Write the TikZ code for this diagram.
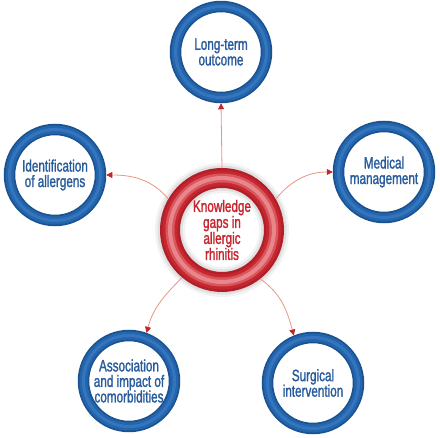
\documentclass[tikz,border=0pt]{standalone}
\usepackage{fontspec}
\setmainfont[FakeStretch=0.71,FakeBold=1.5]{Liberation Sans}
\usetikzlibrary{arrows.meta}

\definecolor{ringdark}{HTML}{1B528F}
\definecolor{ringblue}{HTML}{2366AE}
\definecolor{ringlight}{HTML}{3575BD}
\definecolor{textblue}{HTML}{2A5C9C}
\definecolor{hubdark}{HTML}{B0202A}
\definecolor{hubred}{HTML}{C8262F}
\definecolor{hublight}{HTML}{E8868C}
\definecolor{linkred}{HTML}{E99583}
\definecolor{tipred}{HTML}{C0262C}

\tikzset{
  topic/.style={circle, inner sep=0pt, minimum size=91pt,
    draw=ringdark, line width=11.5pt,
    postaction={draw=ringblue, line width=8pt},
    postaction={draw=ringlight, line width=3pt},
    text=textblue, align=center,
    font=\fontsize{16.5}{15.5}\selectfont},
  hub/.style={circle, inner sep=0pt, minimum size=104pt,
    preaction={draw=black!5, line width=30pt},
    preaction={draw=black!12, line width=25pt},
    draw=hubdark, line width=20pt,
    postaction={draw=hubred, line width=15pt},
    postaction={draw=hubred!50!hublight, line width=9pt},
    postaction={draw=hublight, line width=4pt},
    text=hubred, align=center,
    font=\fontsize{16.5}{16}\selectfont},
  link/.style={draw=linkred, line width=0.8pt,
    -{Triangle[length=6pt,width=6pt,color=tipred]}}
}

\begin{document}
\begin{tikzpicture}[x=1pt,y=-1pt]
  \useasboundingbox (0,0) rectangle (440,438);

  \node[hub] (gaps) at (222,230) {Knowledge\\gaps in\\allergic\\rhinitis};

  \node[topic] (outcome) at (221,52) {Long-term\\outcome};
  \node[topic] (allergens) at (55,175) {Identification\\of allergens};
  \node[topic] (medical) at (384,172) {Medical\\management};
  \node[topic] (comorb) at (129,381) {Association\\and impact of\\comorbidities};
  \node[topic] (surgery) at (313,383) {Surgical\\intervention};

  \draw[link] (gaps.north) -- (outcome.south);
  \draw[link] (gaps.150) to[out=130,in=0] (allergens.east);
  \draw[link] (gaps.30) to[out=50,in=180] (medical.west);
  \draw[link] (gaps.230) to[out=225,in=75] (comorb.70);
  \draw[link] (gaps.308) to[out=-35,in=105] (surgery.112);
\end{tikzpicture}
\end{document}
